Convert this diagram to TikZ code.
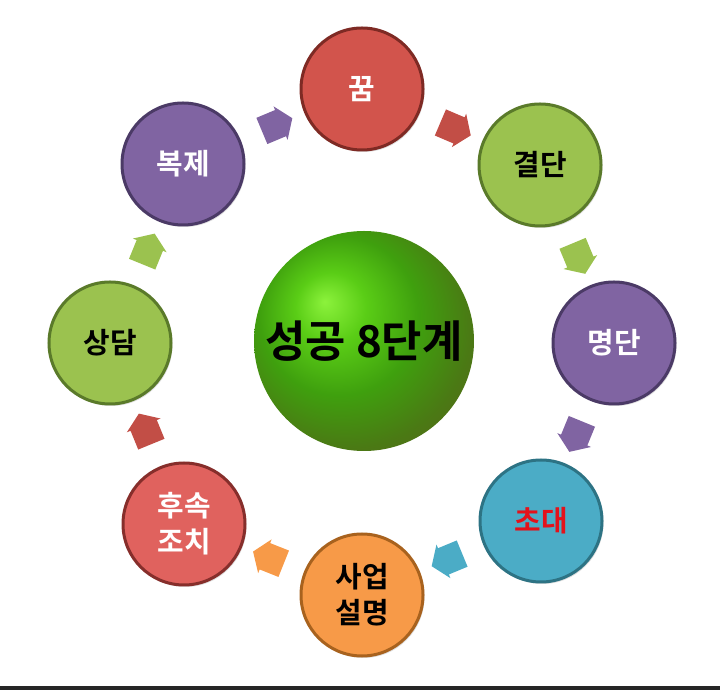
\documentclass[tikz,border=0pt]{standalone}
\usepackage{fontspec}
\setmainfont{Noto Sans CJK KR}[BoldFont={Noto Sans CJK KR Bold}]
\usetikzlibrary{shapes.arrows,shadows}

\definecolor{stagered}{HTML}{D2544C}
\definecolor{stagereddark}{HTML}{7E2A24}
\definecolor{stagegreen}{HTML}{9BC24F}
\definecolor{stagegreendark}{HTML}{5A7A2A}
\definecolor{stagepurple}{HTML}{8064A2}
\definecolor{stagepurpledark}{HTML}{4B3A66}
\definecolor{stagecyan}{HTML}{4BACC6}
\definecolor{stagecyandark}{HTML}{2D7384}
\definecolor{stageorange}{HTML}{F79A48}
\definecolor{stageorangedark}{HTML}{A8621E}
\definecolor{stagepink}{HTML}{E0625E}
\definecolor{stagepinkdark}{HTML}{862E2B}
\definecolor{arrowred}{HTML}{C24E46}
\definecolor{invitered}{HTML}{E3121B}
\definecolor{ballhi}{HTML}{8CF23C}
\definecolor{ballmid}{HTML}{5ACD16}
\definecolor{balldark}{HTML}{3FA00E}
\definecolor{ballrim}{HTML}{4A7A14}
\definecolor{ballolive}{HTML}{5A5F1C}

\pgfdeclareradialshading{greenball}{\pgfpoint{-9bp}{9bp}}{%
  color(0bp)=(ballhi); color(8bp)=(ballmid); color(18bp)=(balldark);
  color(28bp)=(ballrim); color(38bp)=(ballolive); color(50bp)=(ballolive)}

\begin{document}
\begin{tikzpicture}[x=1bp,y=1bp,
    stage/.style={circle, minimum size=122bp, line width=3bp, align=center,
      text=white, font=\fontsize{29}{36}\selectfont\bfseries,
      drop shadow={opacity=0.25, shadow xshift=1.5bp, shadow yshift=-2bp}},
    flow/.style={single arrow, sloped, allow upside down, inner xsep=0pt,
      inner ysep=14bp, minimum height=33bp, single arrow head extend=4bp,
      single arrow tip angle=110}]
    \useasboundingbox (0,0) rectangle (720,690);
    \fill[black!85] (0,0) rectangle (720,4);

    \node[circle, minimum size=220bp, shading=greenball,
      font=\fontsize{44}{52}\selectfont\bfseries] (goal) at (364,349) {성공 8단계};

    \node[stage, fill=stagered, draw=stagereddark]       (kkum)      at (362,601) {꿈};
    \node[stage, fill=stagegreen, draw=stagegreendark, text=black]   (gyeoldan)  at (540,525) {결단};
    \node[stage, fill=stagepurple, draw=stagepurpledark] (myeongdan) at (614,347) {명단};
    \node[stage, fill=stagecyan, draw=stagecyandark, text=invitered] (chodae)    at (541,169) {초대};
    \node[stage, fill=stageorange, draw=stageorangedark, text=black] (saeop)     at (362,95)  {사업\\설명};
    \node[stage, fill=stagepink, draw=stagepinkdark]     (husok)     at (184,166) {후속\\조치};
    \node[stage, fill=stagegreen, draw=stagegreendark, text=black]   (sangdam)   at (110,347) {상담};
    \node[stage, fill=stagepurple, draw=stagepurpledark] (bokje)     at (183,526) {복제};

    \path (kkum)      -- node[flow, fill=arrowred]    {} (gyeoldan);
    \path (gyeoldan)  -- node[flow, fill=stagegreen]  {} (myeongdan);
    \path (myeongdan) -- node[flow, fill=stagepurple] {} (chodae);
    \path (chodae)    -- node[flow, fill=stagecyan]   {} (saeop);
    \path (saeop)     -- node[flow, fill=stageorange] {} (husok);
    \path (husok)     -- node[flow, fill=arrowred]    {} (sangdam);
    \path (sangdam)   -- node[flow, fill=stagegreen]  {} (bokje);
    \path (bokje)     -- node[flow, fill=stagepurple] {} (kkum);
\end{tikzpicture}
\end{document}
